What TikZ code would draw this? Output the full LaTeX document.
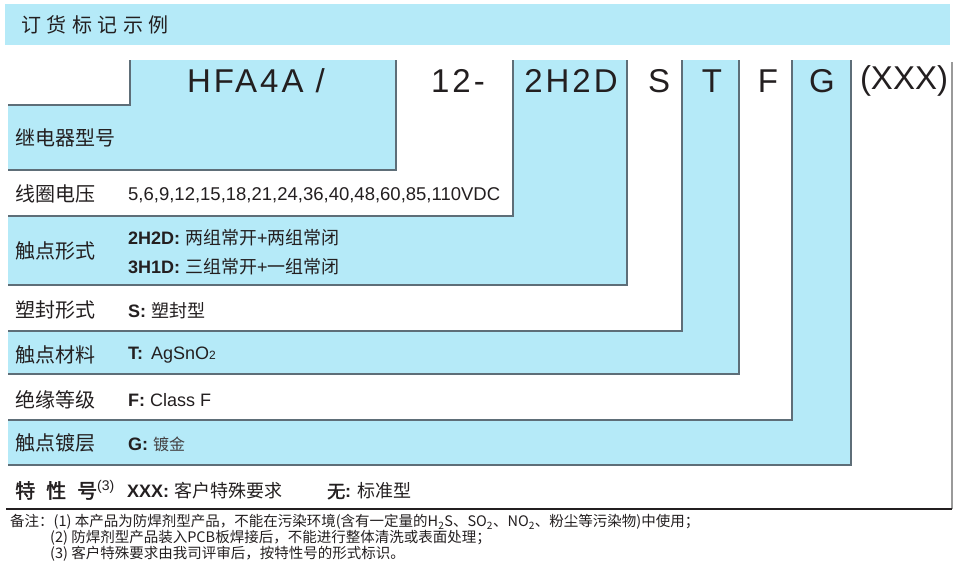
\documentclass[tikz,border=0pt]{standalone}
\usepackage{fontspec}
\setmainfont{Liberation Sans}
\newfontfamily\cjk{Noto Sans CJK SC}[AutoFakeBold=2]
\definecolor{bluefill}{HTML}{B5EAF8}
\definecolor{edgecol}{HTML}{5E6E78}
\definecolor{txt}{HTML}{231F20}
\definecolor{rightgray}{HTML}{9A9A9A}
\tikzset{
  edgeline/.style={draw=edgecol, line width=1.2pt},
  lbl/.style={anchor=west, inner sep=0pt, text=txt, font=\cjk\fontsize{20}{20}\selectfont},
  val/.style={anchor=west, inner sep=0pt, text=txt, font=\fontsize{18}{18}\selectfont},
  codetxt/.style={inner sep=0pt, text=txt, font=\fontsize{33}{33}\selectfont\addfontfeature{LetterSpace=9}},
  codeplain/.style={inner sep=0pt, text=txt, font=\fontsize{33}{33}\selectfont},
  note/.style={anchor=west, inner sep=0pt, text=txt, font=\cjk\fontsize{14.5}{14.5}\selectfont},
}
\begin{document}
\begin{tikzpicture}[x=1pt,y=-1pt]
\useasboundingbox (0,0) rectangle (961,573);
% header band
\fill[bluefill] (5,4) rectangle (950,45);
\node[anchor=west, inner sep=0pt, text=txt, font=\cjk\fontsize{20}{20}\selectfont] (hdr) at (21,25)
  {订\hspace{5.5pt}货\hspace{5.5pt}标\hspace{5.5pt}记\hspace{5.5pt}示\hspace{5.5pt}例};
% row 8 (white, outermost)
\draw[rightgray, line width=1.2pt] (952,62) -- (952,509);
\draw[txt, line width=1.1pt] (952,509) -- (6,509);
% row 7 blue
\fill[bluefill] (8,60) rectangle (851,465);
\draw[edgeline] (851,60) -- (851,465) -- (8,465);
% row 6 white
\fill[white] (8,60) rectangle (792,420);
\draw[edgeline] (792,60) -- (792,420) -- (8,420);
% row 5 blue
\fill[bluefill] (8,60) rectangle (739,374);
\draw[edgeline] (739,60) -- (739,374) -- (8,374);
% row 4 white
\fill[white] (8,60) rectangle (682,331);
\draw[edgeline] (682,60) -- (682,331) -- (8,331);
% row 3 blue
\fill[bluefill] (8,60) rectangle (627,285);
\draw[edgeline] (627,60) -- (627,285) -- (8,285);
% row 2 white
\fill[white] (8,60) rectangle (513,216);
\draw[edgeline] (513,60) -- (513,216) -- (8,216);
% row 1 blue (stepped)
\fill[bluefill] (130,60) -- (396,60) -- (396,170) -- (8,170) -- (8,105) -- (130,105) -- cycle;
\draw[edgeline] (130,60) -- (130,105) -- (8,105);
\draw[edgeline] (396,60) -- (396,170) -- (8,170);
% code texts
\node[codetxt] (cHFA) at (256,81) {HFA4A /};
\node[codetxt] (c12) at (458,81) {12-};
\node[codetxt] (c2H2D) at (571,81) {2H2D};
\node[codetxt] (cS) at (659,81) {S};
\node[codetxt] (cT) at (712,81) {T};
\node[codetxt] (cF) at (768,81) {F};
\node[codetxt] (cG) at (822,81) {G};
\node[codeplain] (cX) at (904,81) {(XXX)};
% row labels
\node[lbl] (l1) at (15,138) {继电器型号};
\node[lbl] (l2) at (15,194) {线圈电压};
\node[lbl] (l3) at (15,251) {触点形式};
\node[lbl] (l4) at (15,310) {塑封形式};
\node[lbl] (l5) at (15,355) {触点材料};
\node[lbl] (l6) at (15,400) {绝缘等级};
\node[lbl] (l7) at (15,443) {触点镀层};
\node[lbl, font=\cjk\bfseries\fontsize{20}{20}\selectfont] (l8) at (15,490)
  {特\hspace{11pt}性\hspace{11pt}号\textsuperscript{\normalfont\fontsize{14}{14}\selectfont (3)}};
% values
\node[val, font=\fontsize{18.5}{18.5}\selectfont] (v2) at (128,195) {5,6,9,12,15,18,21,24,36,40,48,60,85,110VDC};
\node[val] (v3a) at (128,238) {\textbf{2H2D:} {\cjk 两组常开}+{\cjk 两组常闭}};
\node[val] (v3b) at (128,267) {\textbf{3H1D:} {\cjk 三组常开}+{\cjk 一组常闭}};
\node[val] (v4) at (128,311) {\textbf{S:} {\cjk 塑封型}};
\node[val] (v5) at (128,355) {\textbf{T:}\hspace{8pt}AgSnO{\fontsize{12}{12}\selectfont 2}};
\node[val] (v6) at (128,400) {\textbf{F:} Class F};
\node[val] (v7) at (128,444) {\textbf{G:} {\cjk\color{txt!85}\fontsize{16}{16}\selectfont 镀金}};
\node[val] (v8a) at (127,491) {\textbf{XXX:} {\cjk 客户特殊要求}};
\node[val] (v8b) at (327,491) {{\cjk\bfseries 无}\textbf{:} {\cjk 标准型}};
% notes
\node[note] (n1) at (10,522) {备注：(1) 本产品为防焊剂型产品，不能在污染环境(含有一定量的H\textsubscript{2}S、SO\textsubscript{2}、NO\textsubscript{2}、粉尘等污染物)中使用；};
\node[note] (n2) at (50,538) {(2) 防焊剂型产品装入PCB板焊接后，不能进行整体清洗或表面处理；};
\node[note] (n3) at (50,554) {(3) 客户特殊要求由我司评审后，按特性号的形式标识。};
\end{tikzpicture}
\end{document}
